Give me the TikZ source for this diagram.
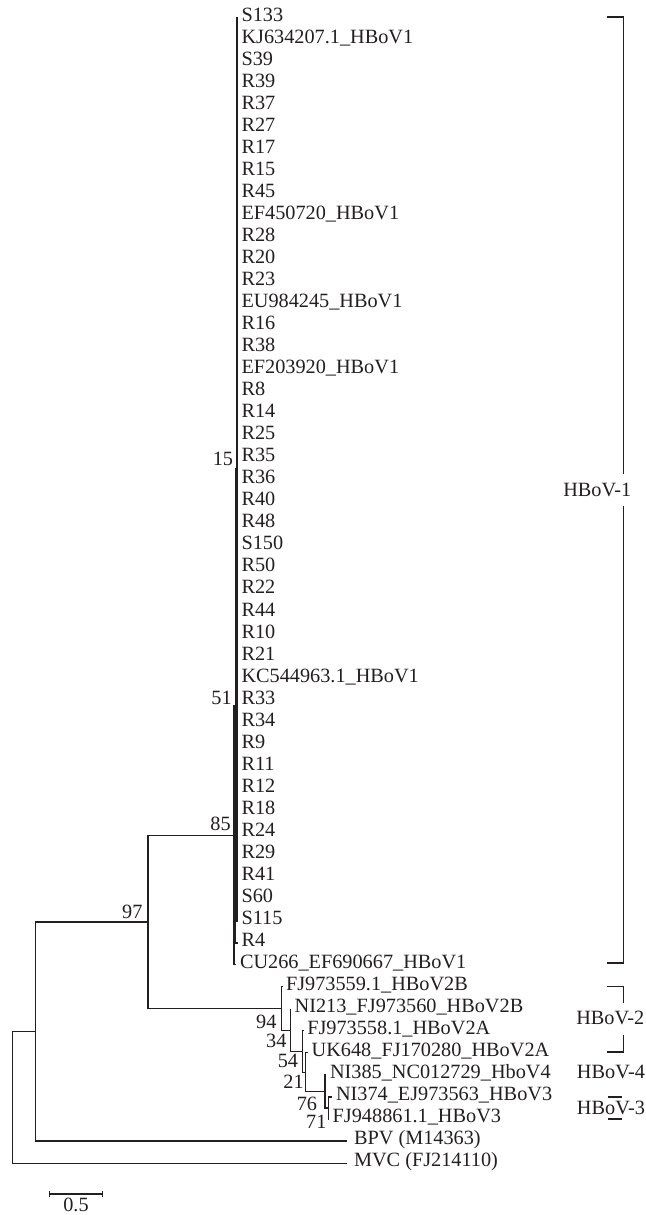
\documentclass[tikz,border=0pt]{standalone}
\usepackage{fontspec}
\setmainfont{Liberation Serif}
\definecolor{ink}{HTML}{231F20}
\begin{document}
\begin{tikzpicture}[x=0.75pt,y=-0.75pt,
  every node/.style={font=\fontsize{15.2pt}{18pt}\selectfont, text=ink},
  br/.style={draw=ink, line width=0.85pt},
  brthick/.style={draw=ink, line width=1.5pt},
  brmid/.style={draw=ink, line width=1.1pt},
  leaf/.style={anchor=west, inner sep=0pt, outer xsep=3pt, outer ysep=0pt, text height=5.56pt, text depth=0pt},
  boot/.style={anchor=east, inner sep=0pt, text height=10.3pt, text depth=0pt},
  clade/.style={anchor=west, inner sep=0pt, text height=10.06pt, text depth=0pt}]
\useasboundingbox (0,0) rectangle (646,1215);
% internal nodes
\coordinate (R)   at (12.3,1097);
\coordinate (N36) at (35.7,1031.5);
\coordinate (N97) at (148,921.95);
\coordinate (N85) at (234,835.4);
\coordinate (N51) at (235.4,705.95);
\coordinate (N15) at (236.5,469.1);
\coordinate (N94) at (281.7,1008.5);
\coordinate (N34) at (290.7,1030.2);
\coordinate (N54) at (302.7,1051.55);
\coordinate (N21) at (305.5,1072.2);
\coordinate (N76) at (325,1091.45);
\coordinate (N71) at (328.3,1108);
% HBoV1 leaves
\foreach \t [count=\i from 0] in {S133,KJ634207.1\_HBoV1,S39,R39,R37,R27,R17,R15,R45,EF450720\_HBoV1,R28,R20,R23,EU984245\_HBoV1,R16,R38,EF203920\_HBoV1,R8,R14,R25,R35,R36,R40,R48,S150,R50,R22,R44,R10,R21,KC544963.1\_HBoV1,R33,R34,R9,R11,R12,R18,R24,R29,R41,S60,S115,R4}
  \node[leaf] (L\i) at (237.5,{17.5+22.03*\i}) {\t};
\node[leaf] (L43) at (236,964.8) {CU266\_EF690667\_HBoV1};
\node[leaf] (L44) at (282,986.8) {FJ973559.1\_HBoV2B};
\node[leaf] (L45) at (290.7,1008.8) {NI213\_FJ973560\_HBoV2B};
\node[leaf] (L46) at (303.3,1030.9) {FJ973558.1\_HBoV2A};
\node[leaf] (L47) at (307.7,1052.9) {UK648\_FJ170280\_HBoV2A};
\node[leaf] (L48) at (326,1074.9) {NI385\_NC012729\_HboV4};
\node[leaf] (L49) at (332,1097) {NI374\_EJ973563\_HBoV3};
\node[leaf] (L50) at (328.7,1119) {FJ948861.1\_HBoV3};
\node[leaf, outer xsep=5.5pt] (L51) at (346.7,1141) {BPV (M14363)};
\node[leaf, outer xsep=5.5pt] (L52) at (346.7,1163.1) {MVC (FJ214110)};
% branches
\foreach \i in {0,...,41} \draw[brthick] (N15) |- (L\i.west);
\draw[brmid] (N51) |- (N15);
\draw[brmid] (N51) |- (L42.west);
\draw[br] (N85) |- (N51);
\draw[br] (N85) |- (L43.west);
\draw[br] (N97) |- (N85);
\draw[br] (N97) |- (N94);
\draw[br] (N36) |- (N97);
\draw[br] (N36) |- (L51.west);
\draw[br] (R) |- (N36);
\draw[br] (R) |- (L52.west);
\draw[br] (N94) |- (L44.west);
\draw[br] (N94) |- (N34);
\draw[br] (N34) |- (L45.west);
\draw[br] (N34) |- (N54);
\draw[br] (N54) |- (L46.west);
\draw[br] (N54) |- (N21);
\draw[br] (N21) |- (L47.west);
\draw[br] (N21) |- (N76);
\draw[br] (N76) |- (L48.west);
\draw[br] (N76) |- (N71);
\draw[br] (N71) |- (L49.west);
\draw[br] (N71) |- (L50.west);
% bootstrap values
\node[boot] (b15) at (233.3,459) {15};
\node[boot] (b51) at (232,697.5) {51};
\node[boot] (b85) at (231,823.3) {85};
\node[boot] (b97) at (142.7,911.7) {97};
\node[boot] (b94) at (276.7,1021.7) {94};
\node[boot] (b34) at (286.7,1040.8) {34};
\node[boot] (b54) at (298.3,1060.8) {54};
\node[boot] (b21) at (304,1081.7) {21};
\node[boot] (b76) at (317.3,1103.3) {76};
\node[boot] (b71) at (326.7,1121.7) {71};
% clade labels and brackets
\node[clade] (c1) at (563,490) {HBoV-1};
\node[clade] (c2) at (576,1018) {HBoV-2};
\node[clade] (c4) at (576.7,1071.7) {HBoV-4};
\node[clade] (c3) at (576.7,1108) {HBoV-3};
\draw[br] (607.3,17) -- (623.3,17) -- (623.3,474);
\draw[br] (623.3,506) -- (623.3,963) -- (607.3,963);
\draw[br] (607.3,986.8) -- (623.3,986.8) -- (623.3,1003);
\draw[br] (623.3,1035) -- (623.3,1052) -- (607.3,1052);
\draw[br] (608,1097) -- (622,1097);
\draw[br] (608,1119) -- (622,1119);
% scale bar
\coordinate (sbL) at (49.3,1194);
\coordinate (sbR) at (102.7,1194);
\draw[br] (sbL) -- (sbR);
\draw[br] ([yshift=2.5pt]sbL) -- ([yshift=-2.5pt]sbL);
\draw[br] ([yshift=2.5pt]sbR) -- ([yshift=-2.5pt]sbR);
\node[boot, anchor=center] (sbl) at (76,1204.5) {0.5};
\end{tikzpicture}
\end{document}
